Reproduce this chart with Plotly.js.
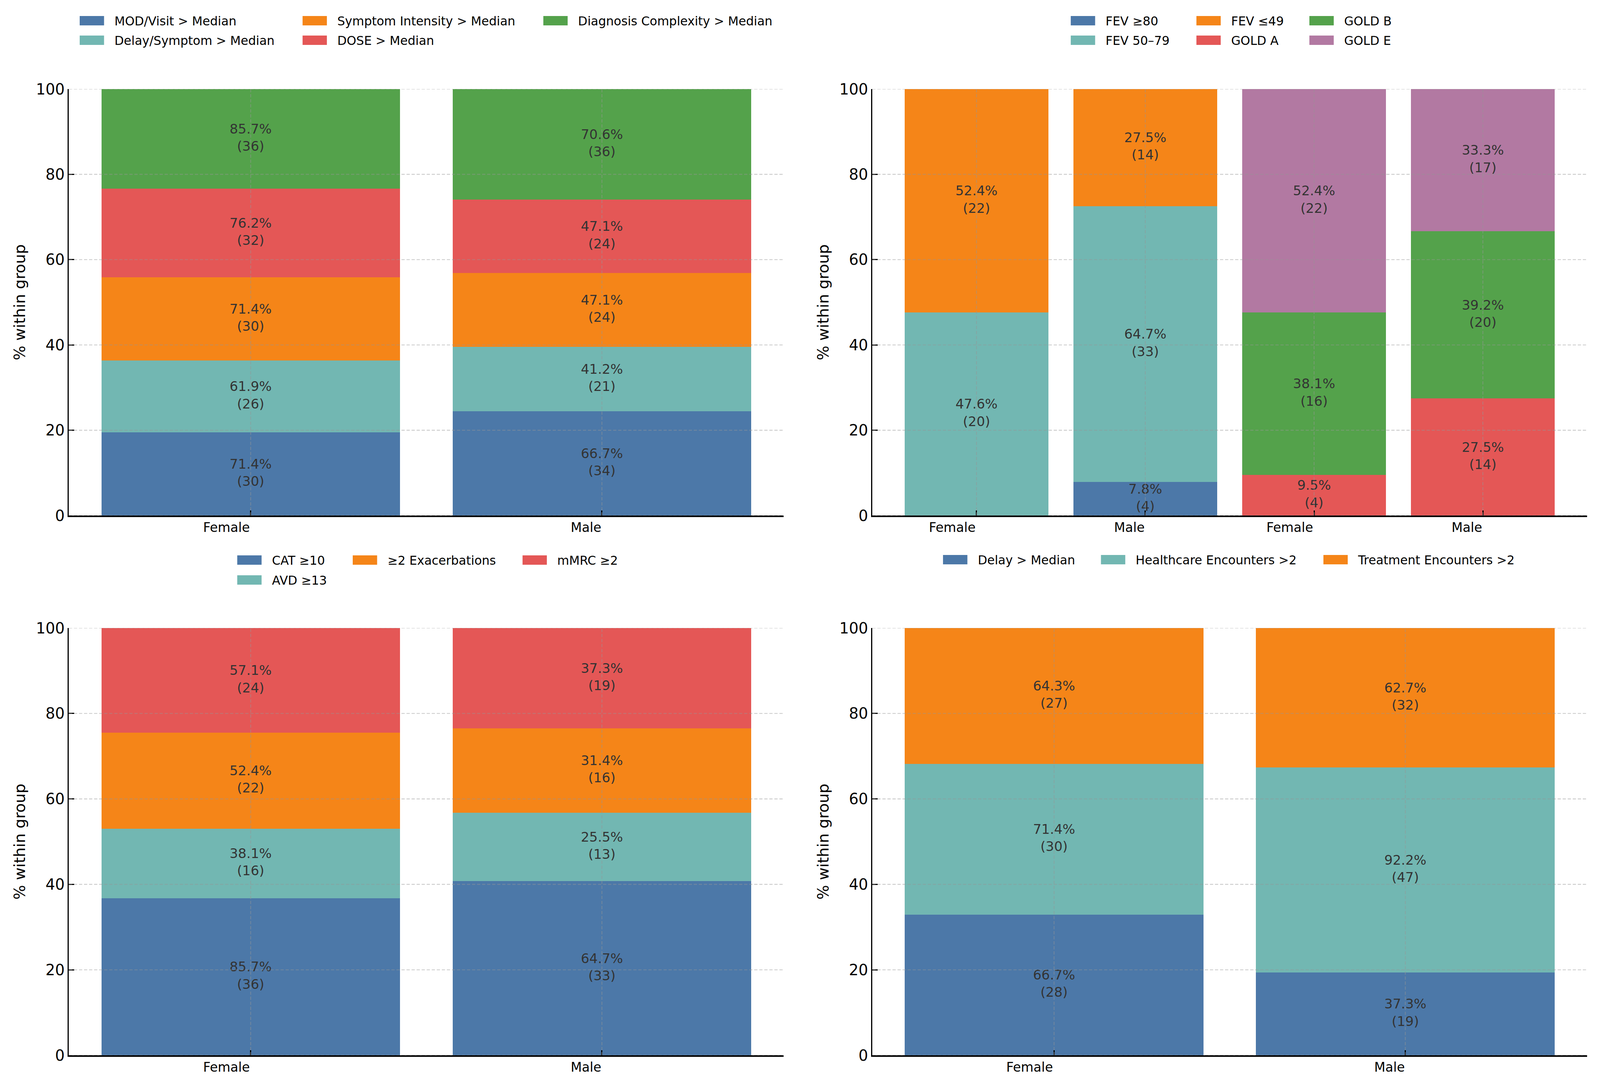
<!DOCTYPE html>
<html><head><meta charset="utf-8">
<script src="https://cdn.plot.ly/plotly-3.0.1.min.js"></script>
<style>html,body{margin:0;padding:0;background:#fff;overflow:hidden}</style>
</head><body><div id="chart"></div>
<script>
// ---------------- DATA ----------------
const genderLabels = ['Female', 'Male'];
const genderPos = [0, 1];
const stageLabels = ['Female', 'Male', 'Female', 'Male'];
const stagePos = [0, 1, 2, 3];
const yTicks = [0, 20, 40, 60, 80, 100];
const yTitle = '% within group';

// Panel A (top-left)
const aSeries = ['MOD/Visit > Median', 'Delay/Symptom > Median', 'Symptom Intensity > Median', 'DOSE > Median', 'Diagnosis Complexity > Median'];
const aPct = [[71.4, 66.7], [61.9, 41.2], [71.4, 47.1], [76.2, 47.1], [85.7, 70.6]];
const aN = [[30, 34], [26, 21], [30, 24], [32, 24], [36, 36]];

// Panel B (top-right): FEV at first two positions, GOLD at last two
const fevSeries = ['FEV ≥80', 'FEV 50–79', 'FEV ≤49'];
const fevPct = [[0.0, 7.8], [47.6, 64.7], [52.4, 27.5]];
const fevN = [[0, 4], [20, 33], [22, 14]];
const goldSeries = ['GOLD A', 'GOLD B', 'GOLD E'];
const goldPct = [[9.5, 27.5], [38.1, 39.2], [52.4, 33.3]];
const goldN = [[4, 14], [16, 20], [22, 17]];

// Panel C (bottom-left)
const cSeries = ['CAT ≥10', 'AVD ≥13', '≥2 Exacerbations', 'mMRC ≥2'];
const cPct = [[85.7, 64.7], [38.1, 25.5], [52.4, 31.4], [57.1, 37.3]];
const cN = [[36, 33], [16, 13], [22, 16], [24, 19]];

// Panel D (bottom-right)
const dSeries = ['Delay > Median', 'Healthcare Encounters >2', 'Treatment Encounters >2'];
const dPct = [[66.7, 37.3], [71.4, 92.2], [64.3, 62.7]];
const dN = [[28, 19], [30, 47], [27, 32]];

// ---------------- STYLE ----------------
const DW = 4459, DH = 2773;   // design size
const W = document.documentElement.clientWidth || window.innerWidth || DW;
const H = document.documentElement.clientHeight || window.innerHeight || DH;
const Sx = W / DW, Sy = H / DH, Sf = Math.min(Sx, Sy);
const fx = v => v * Sx, fy = v => v * Sy, ff = v => v * Sf;
const FONT = 'DejaVu Sans, Liberation Sans, sans-serif';
const colors = {
  'MOD/Visit > Median': '#4c78a8', 'Delay/Symptom > Median': '#72b7b2', 'Symptom Intensity > Median': '#f58518',
  'DOSE > Median': '#e45756', 'Diagnosis Complexity > Median': '#54a24b',
  'FEV ≥80': '#4c78a8', 'FEV 50–79': '#72b7b2', 'FEV ≤49': '#f58518',
  'GOLD A': '#e45756', 'GOLD B': '#54a24b', 'GOLD E': '#b279a2',
  'CAT ≥10': '#4c78a8', 'AVD ≥13': '#72b7b2', '≥2 Exacerbations': '#f58518', 'mMRC ≥2': '#e45756',
  'Delay > Median': '#4c78a8', 'Healthcare Encounters >2': '#72b7b2', 'Treatment Encounters >2': '#f58518'
};
// legend swatch left edge / row centre (design px)
const legendSpots = {
  'MOD/Visit > Median': [222, 53], 'Delay/Symptom > Median': [222, 103],
  'Symptom Intensity > Median': [843, 53], 'DOSE > Median': [843, 103],
  'Diagnosis Complexity > Median': [1514, 53],
  'FEV ≥80': [2984, 53], 'FEV 50–79': [2984, 103], 'FEV ≤49': [3334, 53],
  'GOLD A': [3334, 103], 'GOLD B': [3649, 53], 'GOLD E': [3649, 103],
  'CAT ≥10': [661, 1434], 'AVD ≥13': [661, 1485], '≥2 Exacerbations': [983, 1434], 'mMRC ≥2': [1456, 1434],
  'Delay > Median': [2628, 1433], 'Healthcare Encounters >2': [3068, 1433], 'Treatment Encounters >2': [3688, 1433]
};
const LEG_FONT = ff(34);
const LEG_TEXT_X = fx(97);                 // swatch left -> text start
const LEG_ITEMW = Math.max(30, LEG_TEXT_X - 10);
const LEG_CENTER = 5 + (1.3 * LEG_FONT + 3) / 2;  // legend top -> first item centre
const SW_W = fx(68), SW_H = fy(24);

const data = [];
const layout = {
  width: W, height: H, margin: {l: 0, r: 0, t: 0, b: 0},
  paper_bgcolor: '#ffffff', plot_bgcolor: 'rgba(0,0,0,0)',
  font: {family: FONT, size: ff(43), color: '#000'},
  barmode: 'stack', showlegend: true, shapes: [], annotations: []
};
let legendCount = 0;

function shares(counts) {
  const totals = counts[0].map((_, j) => counts.reduce((s, row) => s + row[j], 0));
  return counts.map(row => row.map((v, j) => v / totals[j] * 100));
}

function stack(names, pcts, counts, xs, xa, ya) {
  const h = shares(counts);
  const cum = xs.map(() => 0);
  names.forEach((name, i) => {
    legendCount++;
    const lid = legendCount === 1 ? 'legend' : 'legend' + legendCount;
    const [lx, ly] = legendSpots[name];
    layout[lid] = {
      x: lx / DW, xanchor: 'left', y: 1 - (fy(ly) - LEG_CENTER) / H, yanchor: 'top',
      orientation: 'v', bgcolor: 'rgba(0,0,0,0)', borderwidth: 0, itemwidth: LEG_ITEMW,
      font: {family: FONT, size: LEG_FONT, color: '#000'}, traceorder: 'normal'
    };
    data.push({
      type: 'bar', name, x: xs, y: h[i], width: 0.85, xaxis: xa, yaxis: ya, legend: lid,
      marker: {color: colors[name], line: {width: 0}}, hoverinfo: 'skip'
    });
    const tx = [], ty = [], tt = [];
    xs.forEach((x, j) => {
      if (counts[i][j] > 0) {
        tx.push(x); ty.push(cum[j] + h[i][j] / 2);
        tt.push(pcts[i][j].toFixed(1) + '%<br>(' + counts[i][j] + ')');
      }
      cum[j] += h[i][j];
    });
    data.push({
      type: 'scatter', mode: 'text', x: tx, y: ty, text: tt, textposition: 'middle center',
      textfont: {family: FONT, size: ff(37), color: '#333333'}, xaxis: xa, yaxis: ya,
      showlegend: false, hoverinfo: 'skip', cliponaxis: false
    });
  });
}

stack(aSeries, aPct, aN, genderPos, 'x', 'y');
stack(fevSeries, fevPct, fevN, [stagePos[0], stagePos[1]], 'x2', 'y2');
stack(goldSeries, goldPct, goldN, [stagePos[2], stagePos[3]], 'x2', 'y2');
stack(cSeries, cPct, cN, genderPos, 'x3', 'y3');
stack(dSeries, dPct, dN, genderPos, 'x4', 'y4');

const domL = [192 / DW, 2184 / DW], domR = [2431 / DW, 4423 / DW];
const domT = [1 - 1320 / DH, 1 - 228 / DH], domB = [1 - 2702 / DH, 1 - 1608 / DH];

function xAxis(domain, range, tickvals, anchor) {
  return {domain, range, tickvals, showticklabels: false, ticks: 'inside', ticklen: fy(13), tickwidth: fx(3),
    tickcolor: '#000', showline: true, linecolor: '#000', linewidth: fy(3.5), showgrid: false,
    zeroline: false, anchor, fixedrange: true};
}
function yAxis(domain, anchor) {
  return {domain, range: [0, 100], tickvals: yTicks, ticks: 'inside', ticklen: fx(15), tickwidth: fy(3),
    tickcolor: '#000', showline: true, linecolor: '#000', linewidth: fx(3.5), showgrid: false,
    zeroline: false, anchor, tickfont: {family: FONT, size: ff(42), color: '#000'}, ticklabelstandoff: fx(12),
    title: {text: yTitle, font: {family: FONT, size: ff(43), color: '#000'}, standoff: fx(17)},
    automargin: false, fixedrange: true};
}
const panels = [
  {xa: 'x', ya: 'y', xd: domL, yd: domT, range: [-0.5175, 1.5175], pos: genderPos, labels: genderLabels},
  {xa: 'x2', ya: 'y2', xd: domR, yd: domT, range: [-0.6175, 3.6175], pos: stagePos, labels: stageLabels},
  {xa: 'x3', ya: 'y3', xd: domL, yd: domB, range: [-0.5175, 1.5175], pos: genderPos, labels: genderLabels},
  {xa: 'x4', ya: 'y4', xd: domR, yd: domB, range: [-0.5175, 1.5175], pos: genderPos, labels: genderLabels}
];
const gridLine = {color: 'rgba(150,150,150,0.5)', width: ff(2.3), dash: ff(9).toFixed(1) + 'px,' + ff(5).toFixed(1) + 'px'};
panels.forEach(p => {
  const xk = 'xaxis' + p.xa.slice(1), yk = 'yaxis' + p.ya.slice(1);
  layout[xk] = xAxis(p.xd, p.range, p.pos, p.ya);
  layout[yk] = yAxis(p.yd, p.xa);
  yTicks.forEach(v => layout.shapes.push({type: 'line', xref: p.xa + ' domain', x0: 0, x1: 1,
    yref: p.ya, y0: v, y1: v, layer: 'above', line: gridLine}));
  p.pos.forEach(v => layout.shapes.push({type: 'line', xref: p.xa, x0: v, x1: v,
    yref: p.ya + ' domain', y0: 0, y1: 1, layer: 'above', line: gridLine}));
  p.pos.forEach((v, i) => layout.annotations.push({xref: p.xa, yref: p.ya, x: v, y: 0,
    text: p.labels[i], showarrow: false, xanchor: 'right', yanchor: 'top', yshift: -fy(9),
    font: {family: FONT, size: ff(36), color: '#000'}}));
});

const gd = document.getElementById('chart');
gd.style.width = W + 'px';
gd.style.height = H + 'px';

// widen the legend swatches into matplotlib-like patches
function fixSwatches() {
  gd.querySelectorAll('g.traces').forEach(g => {
    const paths = g.querySelectorAll('g.legendpoints path');
    const t = g.querySelector('text');
    if (!paths.length) return;
    const tx = t ? parseFloat(t.getAttribute('x')) : NaN;
    const textX = isNaN(tx) ? LEG_ITEMW + 10 : tx;
    const cx = textX - LEG_TEXT_X + SW_W / 2;
    const want = 'translate(' + cx.toFixed(2) + ',0) scale(' + (SW_W / 12).toFixed(4) + ',' + (SW_H / 12).toFixed(4) + ')';
    paths.forEach(p => { if (p.getAttribute('transform') !== want) p.setAttribute('transform', want); });
  });
}
const mo = new MutationObserver(fixSwatches);
mo.observe(gd, {childList: true, subtree: true, attributes: true, attributeFilter: ['transform']});
Plotly.newPlot(gd, data, layout, {displayModeBar: false, responsive: false}).then(() => {
  fixSwatches();
  gd.on('plotly_afterplot', fixSwatches);
  [50, 200, 600, 1500].forEach(t => setTimeout(fixSwatches, t));
});
</script></body></html>
